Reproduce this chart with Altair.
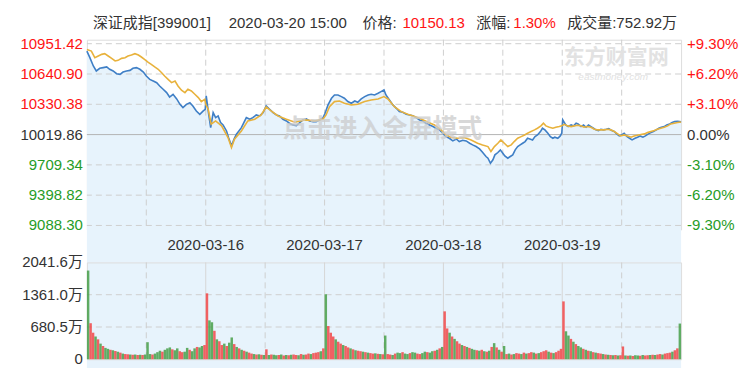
import altair as alt
import pandas as pd

# ---------------- data ----------------
title_texts = ["深证成指[399001]", "2020-03-20 15:00", "价格:", "10150.13", "涨幅:", "1.30%", "成交量:752.92万"]
title_kinds = ["label", "label", "label", "value", "label", "value", "label"]

prev_close = 10019.86

# price line (minute index over 5 trading days, 240 min per day)
price_t = [0, 6, 13, 19, 26, 33, 40, 46, 53, 60, 67, 73, 80, 87, 93, 100, 107, 114, 120, 127,
           134, 141, 147, 154, 161, 167, 174, 181, 188, 194, 201, 208, 214, 221, 228, 235, 239,
           241, 246, 250, 255, 260, 265, 270, 275, 282, 286, 292, 297, 302, 307, 312, 317, 322, 329,
           335, 342, 349, 356, 362, 369, 376, 383, 389, 396, 403,
           409, 416, 423, 430, 436, 443, 450, 457, 463, 470, 477,
           481, 487, 494, 500, 507, 514, 520, 527, 534, 541, 547, 554, 561, 568, 574, 581, 588, 594,
           600, 604, 611, 618, 625, 631, 638, 645, 652, 658, 665, 672, 678, 685, 692, 699, 705, 712, 719,
           725, 732, 739, 746, 752, 759, 766, 773, 779, 786, 793, 799, 806, 810, 815, 820, 824, 830,
           835, 840, 844, 850, 855, 860, 865, 870, 875, 880, 885, 890, 896, 900, 905, 910, 916, 920,
           925, 931, 936, 941, 945, 951, 956, 959,
           961, 967, 972, 978, 983, 988, 992, 998, 1003, 1008, 1013, 1018, 1023, 1028, 1033, 1038,
           1043, 1049, 1054, 1060, 1065, 1070, 1075, 1080, 1085, 1091, 1096, 1101, 1107, 1112, 1117,
           1123, 1128, 1134, 1139, 1144, 1150, 1155, 1160, 1166, 1171, 1177, 1182, 1187, 1193, 1200]
price = [10876, 10808, 10723, 10672, 10699, 10706, 10713, 10689, 10672, 10644, 10637, 10661, 10672,
         10678, 10699, 10706, 10689, 10661, 10620, 10586, 10569, 10552, 10518, 10484, 10450, 10405,
         10433, 10388, 10330, 10296, 10330, 10347, 10313, 10262, 10228, 10262, 10279,
         10416, 10228, 10091, 10245, 10194, 10211, 10143, 10119, 10057, 9989, 9904, 9972, 10023,
         10057, 10091, 10143, 10194, 10177, 10194, 10221, 10211, 10245, 10313, 10279, 10245, 10221,
         10211, 10177, 10160,
         10136, 10119, 10112, 10143, 10170, 10180, 10160, 10153, 10153, 10170, 10194,
         10238, 10324, 10392, 10426, 10426, 10409, 10392, 10358, 10341, 10364, 10351, 10385, 10409,
         10426, 10433, 10426, 10443, 10460, 10477, 10426, 10375, 10324, 10289, 10255, 10248, 10228,
         10221, 10214, 10194, 10170, 10160, 10136, 10119, 10102, 10085, 10068, 10033,
         9999, 9982, 9955, 9975, 9948, 9962, 9955, 9931, 9914, 9897, 9873, 9839, 9795, 9778, 9726,
         9761, 9812, 9836, 9863, 9829, 9801, 9778, 9795, 9812, 9863, 9897, 9914, 9931, 9948, 9982,
         9972, 9965, 9999, 10016, 10051, 10085, 10068, 10034, 9999, 9982, 9993, 9982, 10006, 10034,
         10170, 10119, 10102, 10119, 10109, 10136, 10129, 10102, 10119, 10095, 10119, 10102, 10085,
         10068, 10061, 10074, 10068, 10074, 10081, 10061, 10051, 10027, 10006, 10016, 10034, 9999,
         9982, 9965, 9982, 9993, 10006, 9993, 10006, 10027, 10040, 10051, 10068, 10085, 10095, 10102,
         10119, 10129, 10143, 10153, 10156, 10150.13]

# average price line
avg_t = [0, 9, 16, 23, 30, 36, 43, 50, 57, 63, 70, 77, 83, 90, 97, 104, 110, 117, 124, 130,
         137, 144, 151, 157, 164, 171, 178, 184, 191, 198, 204, 211, 218, 225, 231, 238, 240,
         245, 251, 260, 272, 285, 292, 298, 312, 325, 339, 352, 362, 372, 386, 403, 420, 440, 460, 477,
         483, 490, 500, 510, 520, 534, 547, 561, 574, 588, 600, 608, 621, 635, 648, 662, 675, 689,
         702, 715,
         725, 736, 749, 762, 776, 789, 799, 810, 816, 823, 830, 836, 843, 850, 857, 863, 870, 877,
         884, 890, 897, 904, 910, 917, 922, 927, 934, 941, 947, 954, 959,
         964, 971, 978, 984, 991, 998, 1004, 1011, 1018, 1025, 1031, 1038, 1045, 1052, 1058, 1065,
         1072, 1078, 1085, 1092, 1099, 1105, 1112, 1119, 1126, 1132, 1139, 1146, 1152, 1159, 1166,
         1173, 1179, 1186, 1193, 1200]
avg = [10893, 10876, 10808, 10825, 10842, 10849, 10825, 10801, 10774, 10781, 10801, 10808, 10825,
       10835, 10849, 10835, 10815, 10788, 10760, 10740, 10713, 10689, 10654, 10620, 10586, 10552,
       10569, 10518, 10474, 10450, 10484, 10467, 10433, 10399, 10358, 10382, 10330,
       10279, 10126, 10160, 10109, 9989, 9887, 9972, 10057, 10160, 10177, 10221, 10303, 10262, 10211,
       10177, 10146, 10170, 10160, 10180,
       10221, 10306, 10358, 10364, 10341, 10324, 10330, 10358, 10375, 10385, 10409, 10385, 10306,
       10255, 10228, 10204, 10180, 10146, 10119, 10068,
       10016, 9989, 9982, 9989, 9965, 9931, 9914, 9897, 9846, 9897, 9931, 9965, 9931, 9897, 9914,
       9948, 9982, 9999, 10016, 10034, 10051, 10068, 10085, 10109, 10136, 10109, 10095, 10085,
       10095, 10102, 10109,
       10125, 10109, 10102, 10109, 10115, 10109, 10095, 10102, 10095, 10074, 10068, 10068, 10068,
       10074, 10068, 10051, 10027, 10006, 10016, 10006, 9993, 10006, 10013, 10020, 10027, 10040,
       10051, 10061, 10074, 10085, 10095, 10109, 10129, 10136, 10143, 10148]

# volume (万), 5-minute bars, 24 per half day; colours r = up, g = down
vol_am1 = [1870, 760, 560, 480, 420, 330, 280, 240, 220, 200, 190, 175, 160, 140, 120, 110, 105, 100, 95, 100, 90, 95, 90, 100]
col_am1 = "grrgrgrggrgrgrgrrgrgrgrg"
vol_pm1 = [360, 110, 100, 120, 150, 180, 160, 200, 230, 250, 210, 190, 230, 170, 150, 160, 240, 200, 170, 230, 260, 250, 280, 300]
col_pm1 = "ggrgggrgggrggrrggrggrggr"
vol_am2 = [1390, 820, 780, 600, 420, 380, 300, 330, 280, 350, 460, 320, 260, 230, 200, 180, 160, 140, 120, 110, 100, 105, 95, 90]
col_am2 = "rggrgrrgrggrgrgrgrrgrgrg"
vol_pm2 = [210, 90, 100, 95, 85, 90, 100, 80, 90, 85, 95, 100, 90, 85, 110, 95, 100, 120, 110, 130, 140, 150, 170, 230]
col_pm2 = "rgrggrgrgrgrrgrgrrgrrrgr"
vol_am3 = [1370, 700, 560, 480, 420, 370, 330, 300, 280, 250, 230, 210, 190, 180, 170, 160, 150, 140, 130, 120, 125, 115, 110, 105]
col_am3 = "grrrgrrgrrgrgrrgrgrrgrgr"
vol_pm3 = [500, 110, 100, 90, 120, 140, 130, 150, 120, 110, 130, 150, 140, 120, 110, 130, 160, 150, 140, 170, 180, 200, 230, 260]
col_pm3 = "grrgrggrggrggrrggrggrgrg"
vol_am4 = [1010, 650, 560, 480, 430, 380, 330, 300, 280, 260, 240, 220, 200, 190, 180, 200, 170, 160, 180, 260, 340, 250, 200, 160]
col_am4 = "rrgrgrrgrgrggrgrgrgrgrgr"
vol_pm4 = [280, 110, 120, 100, 110, 130, 120, 110, 140, 120, 130, 150, 140, 120, 130, 150, 170, 190, 160, 140, 130, 150, 180, 220]
col_pm4 = "grgrgrrgrgrrgrgrrrgrgrrr"
vol_am5 = [1220, 590, 500, 430, 370, 320, 280, 250, 220, 200, 180, 170, 150, 140, 130, 120, 110, 100, 95, 90, 85, 90, 80, 85]
col_am5 = "rggrgrggrgrgrgrrgrgrgrgr"
vol_pm5 = [270, 80, 75, 80, 70, 85, 80, 75, 90, 80, 85, 90, 95, 90, 100, 110, 100, 120, 130, 140, 160, 190, 230, 752.92]
col_pm5 = "rgrgrggrgrrgrgrrgrrrgrrg"

price_ticks = [10951.42, 10640.90, 10330.38, 10019.86, 9709.34, 9398.82, 9088.30]
price_tick_labels = ["10951.42", "10640.90", "10330.38", "10019.86", "9709.34", "9398.82", "9088.30"]
pct_tick_labels = ["+9.30%", "+6.20%", "+3.10%", "0.00%", "-3.10%", "-6.20%", "-9.30%"]
vol_ticks = [2041.6, 1361.0, 680.5, 0]
vol_tick_labels = ["2041.6万", "1361.0万", "680.5万", "0"]
date_labels = ["2020-03-16", "2020-03-17", "2020-03-18", "2020-03-19"]
date_t = [240, 480, 720, 960]
halfday_t = [120, 360, 600, 840, 1080]
day_t = [240, 480, 720, 960]

# ---------------- styling ----------------
FONT = "Liberation Sans, Arial, Noto Sans CJK SC, sans-serif"
FS = 15
TOP_W, TOP_H, VOL_H = 595, 190, 97
RED, GREEN, DARK = "#ff1414", "#279c27", "#333333"
GRID = "#cfcfcf"
BAR_STEP = 5

xs = alt.Scale(domain=[0, 1200], nice=False, zero=False)
ys = alt.Scale(domain=[9047.4, 10992.3], nice=False, zero=False)
vs = alt.Scale(domain=[0, 2041.6], nice=False, zero=True)

price_df = pd.DataFrame({"t": price_t, "p": price})
avg_df = pd.DataFrame({"t": avg_t, "p": avg})


def tick_color(v):
    if abs(v - prev_close) < 0.01:
        return DARK
    return RED if v > prev_close else GREEN


tick_df = pd.DataFrame({
    "v": price_ticks,
    "label": price_tick_labels,
    "pct": pct_tick_labels,
    "col": [tick_color(v) for v in price_ticks],
    "base": [abs(v - prev_close) < 0.01 for v in price_ticks],
})

vols, cols = [], ""
for v, c in [(vol_am1, col_am1), (vol_pm1, col_pm1), (vol_am2, col_am2), (vol_pm2, col_pm2),
             (vol_am3, col_am3), (vol_pm3, col_pm3), (vol_am4, col_am4), (vol_pm4, col_pm4),
             (vol_am5, col_am5), (vol_pm5, col_pm5)]:
    vols += v
    cols += c
vol_df = pd.DataFrame({
    "t0": [i * BAR_STEP for i in range(len(vols))],
    "t1": [(i + 1) * BAR_STEP for i in range(len(vols))],
    "v": vols,
    "c": list(cols),
})
vtick_df = pd.DataFrame({"v": vol_ticks, "label": vol_tick_labels})
half_df = pd.DataFrame({"t": halfday_t})
day_df = pd.DataFrame({"t": day_t})
date_df = pd.DataFrame({"t": date_t, "label": date_labels})

X = alt.X("t:Q", scale=xs, axis=None)

# ---------------- top (price) panel ----------------
area = alt.Chart(price_df).mark_area(color="#e7f3fc").encode(
    x=X, y=alt.Y("p:Q", scale=ys, axis=None), y2=alt.value(TOP_H))

hgrid = alt.Chart(tick_df[~tick_df.base]).mark_rule(color=GRID, strokeDash=[6, 4], strokeWidth=1).encode(
    y=alt.Y("v:Q", scale=ys, axis=None))
baseline = alt.Chart(tick_df[tick_df.base]).mark_rule(color="#b5b5b5", strokeWidth=1).encode(
    y=alt.Y("v:Q", scale=ys, axis=None))
vgrid = alt.Chart(pd.concat([half_df, day_df])).mark_rule(color=GRID, strokeDash=[6, 4], strokeWidth=1).encode(x=X)

blue = alt.Chart(price_df).mark_line(color="#3f7fc6", strokeWidth=1.6).encode(
    x=X, y=alt.Y("p:Q", scale=ys, axis=None))
orange = alt.Chart(avg_df).mark_line(color="#e8b23c", strokeWidth=1.6).encode(
    x=X, y=alt.Y("p:Q", scale=ys, axis=None))

wm_df = pd.DataFrame({"s": ["点击进入全屏模式"]})
watermark = alt.Chart(wm_df).mark_text(font=FONT, fontSize=25, fontWeight="bold", color="#cccccc",
                                       opacity=0.75, align="center", baseline="middle").encode(
    text="s:N", x=alt.value(296), y=alt.value(89))
logo_df = pd.DataFrame({"s": ["东方财富网"]})
logo = alt.Chart(logo_df).mark_text(font=FONT, fontSize=21, fontWeight="bold", color="#e2e2e2",
                                    align="center", baseline="middle").encode(
    text="s:N", x=alt.value(530), y=alt.value(18))
logo2_df = pd.DataFrame({"s": ["eastmoney.com"]})
logo2 = alt.Chart(logo2_df).mark_text(font=FONT, fontSize=10, fontStyle="italic", color="#e2e2e2",
                                      align="center", baseline="middle").encode(
    text="s:N", x=alt.value(527), y=alt.value(37))

left_lbl = alt.Chart(tick_df).mark_text(font=FONT, fontSize=FS, align="right", baseline="middle").encode(
    y=alt.Y("v:Q", scale=ys, axis=None), x=alt.value(-4), text="label:N",
    color=alt.Color("col:N", scale=None))
right_lbl = alt.Chart(tick_df).mark_text(font=FONT, fontSize=FS, align="left", baseline="middle").encode(
    y=alt.Y("v:Q", scale=ys, axis=None), x=alt.value(TOP_W + 6), text="pct:N",
    color=alt.Color("col:N", scale=None))
date_lbl = alt.Chart(date_df).mark_text(font=FONT, fontSize=FS, color=DARK, align="center",
                                        baseline="middle").encode(
    x=X, y=alt.value(TOP_H + 16), text="label:N")

title_x = [6, 142, 276, 316, 390, 427, 481]
title_layers = []
for txt, kind, tx in zip(title_texts, title_kinds, title_x):
    title_layers.append(
        alt.Chart(pd.DataFrame({"s": [txt]})).mark_text(
            font=FONT, fontSize=FS, align="left", baseline="middle",
            color=RED if kind == "value" else DARK).encode(
            text="s:N", x=alt.value(tx), y=alt.value(-17)))

top = alt.layer(area, hgrid, baseline, vgrid, logo, logo2, blue, orange, watermark,
                left_lbl, right_lbl, date_lbl, *title_layers).properties(width=TOP_W, height=TOP_H)

# ---------------- bottom (volume) panel ----------------
vh = alt.Chart(vtick_df[(vtick_df.v > 0) & (vtick_df.v < 2041.6)]).mark_rule(
    color=GRID, strokeDash=[6, 4]).encode(y=alt.Y("v:Q", scale=vs, axis=None))
vhalf = alt.Chart(half_df).mark_rule(color=GRID, strokeDash=[6, 4]).encode(x=X)
vday = alt.Chart(day_df).mark_rule(color="#d6d6d6").encode(x=X)
bars = alt.Chart(vol_df).mark_bar(opacity=0.8).encode(
    x=alt.X("t0:Q", scale=xs, axis=None), x2="t1:Q",
    y=alt.Y("v:Q", scale=vs, axis=None), y2=alt.value(VOL_H),
    color=alt.Color("c:N", scale=alt.Scale(domain=["r", "g"], range=["#f23c3c", "#3d9a3d"]), legend=None))
vlbl = alt.Chart(vtick_df).mark_text(font=FONT, fontSize=FS, color=DARK, align="right",
                                     baseline="middle").encode(
    y=alt.Y("v:Q", scale=vs, axis=None), x=alt.value(-4), text="label:N")

bottom = alt.layer(vh, vhalf, vday, bars, vlbl).properties(width=TOP_W, height=VOL_H)

chart = alt.vconcat(top, bottom, spacing=33, bounds="flush").properties(
    padding={"left": 11, "top": 6, "right": 5, "bottom": 0}
).configure_view(stroke="#a5a5a5", strokeWidth=1).configure(font=FONT)

chart.save("out.html", embed_options={"renderer": "svg", "actions": False})
